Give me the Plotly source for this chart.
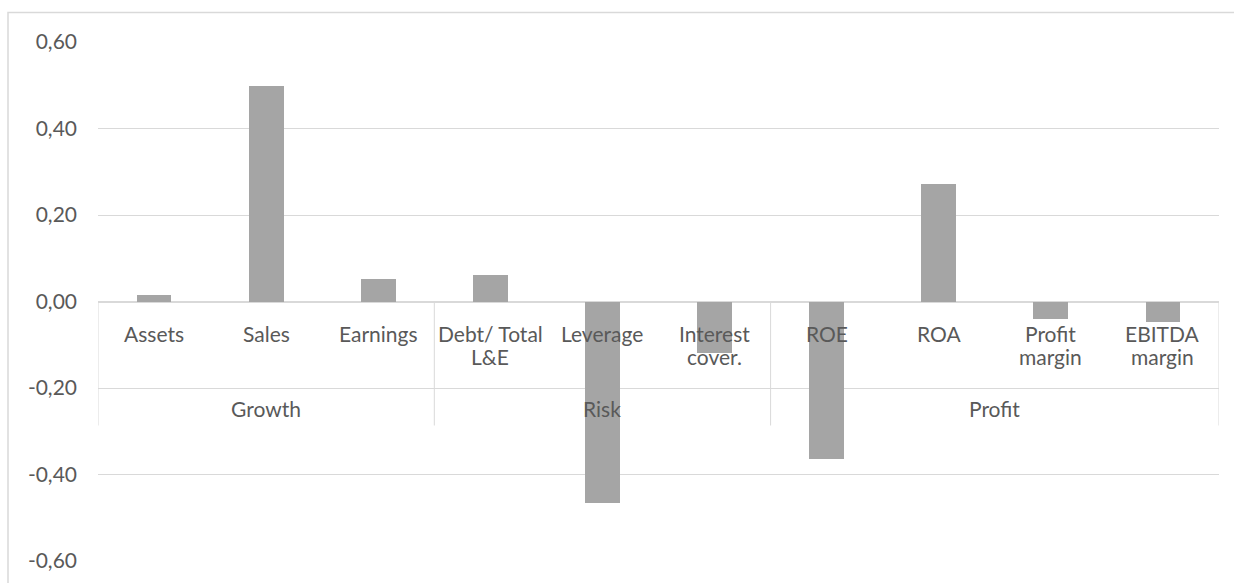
import plotly.graph_objects as go

# Ratio changes grouped by dimension
groups = ["Growth", "Risk", "Profit"]
group_sizes = [3, 3, 4]
metric_lines = [
    ["Assets"], ["Sales"], ["Earnings"],
    ["Debt/ Total", "L&E"], ["Leverage"], ["Interest", "cover."],
    ["ROE"], ["ROA"], ["Profit", "margin"], ["EBITDA", "margin"],
]
values = [0.014, 0.498, 0.053, 0.062, -0.466, -0.120, -0.365, 0.271, -0.041, -0.047]
y_ticks = [-0.6, -0.4, -0.2, 0.0, 0.2, 0.4, 0.6]
y_tick_text = ["-0,60", "-0,40", "-0,20", "0,00", "0,20", "0,40", "0,60"]

FONT = "Lato"
TXT = "#595959"
GRID = "#d9d9d9"
BAR = "#a5a5a5"
FS = 21

W, H = 1234, 583
ML, MR, MT, MB = 98, 15, 42, 22
plot_h = H - MT - MB
px_per_unit = plot_h / 1.2

xs = list(range(len(values)))

fig = go.Figure()
fig.add_trace(go.Bar(
    x=xs, y=values, width=0.31,
    marker=dict(color=BAR, line=dict(width=0)),
    hoverinfo="skip",
))

annotations = []
# first-level category labels, stacked line by line
for i, lines in enumerate(metric_lines):
    for k, line in enumerate(lines):
        annotations.append(dict(
            x=i, y=0, xref="x", yref="y", text=line, showarrow=False,
            yanchor="middle", yshift=-(32 + 23 * k),
            font=dict(family=FONT, size=FS, color=TXT),
        ))

# group labels and separators
shapes = []
start = 0
bounds = [-0.5]
for g, n in zip(groups, group_sizes):
    center = start + (n - 1) / 2
    annotations.append(dict(
        x=center, y=0, xref="x", yref="y", text=g, showarrow=False,
        yanchor="middle", yshift=-107,
        font=dict(family=FONT, size=FS, color=TXT),
    ))
    start += n
    bounds.append(start - 0.5)

sep_bottom = -124 / px_per_unit
for b in bounds:
    shapes.append(dict(type="line", xref="x", yref="y", x0=b, x1=b, y0=0, y1=sep_bottom,
                       line=dict(color=GRID, width=1), layer="below"))

# chart frame
shapes.append(dict(type="rect", xref="paper", yref="paper",
                   x0=(8 - ML) / (W - ML - MR), x1=(W + 10 - ML) / (W - ML - MR),
                   y0=-0.2, y1=1 + (MT - 12.5) / plot_h,
                   line=dict(color=GRID, width=1.5), layer="below"))

fig.update_layout(
    width=W, height=H,
    margin=dict(l=ML, r=MR, t=MT, b=MB),
    plot_bgcolor="white", paper_bgcolor="white",
    showlegend=False,
    bargap=0,
    annotations=annotations,
    shapes=shapes,
    xaxis=dict(range=[-0.5, len(values) - 0.5], showticklabels=False, showgrid=False,
               zeroline=False, showline=False, ticks="", fixedrange=True),
    yaxis=dict(range=[-0.6, 0.6], tickvals=y_ticks, ticktext=y_tick_text,
               showgrid=True, gridcolor=GRID, gridwidth=1,
               zeroline=True, zerolinecolor=GRID, zerolinewidth=1.5,
               showline=False, ticks="", ticklabelstandoff=20,
               tickfont=dict(family=FONT, size=FS, color=TXT), fixedrange=True),
)

fig.write_html("out.html")
